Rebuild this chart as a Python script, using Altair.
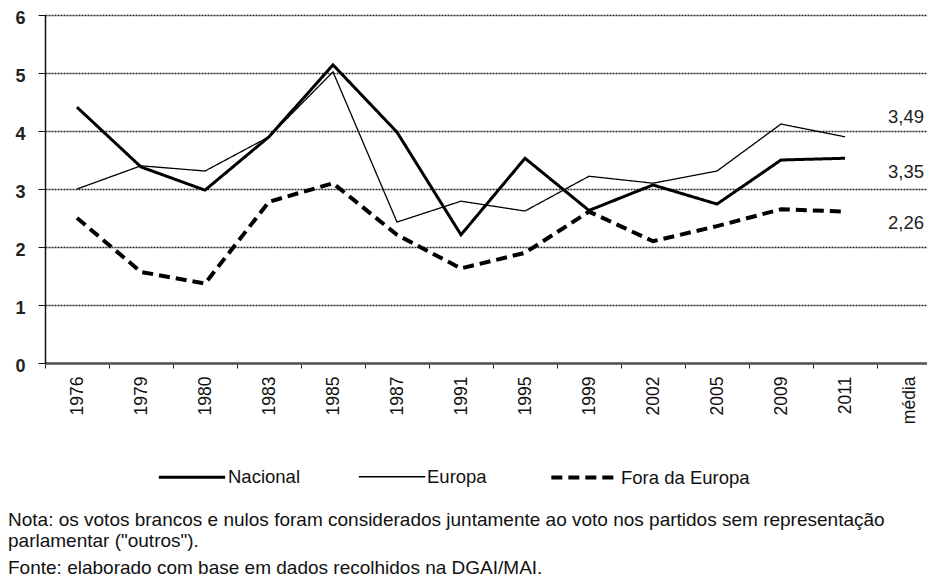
import altair as alt
import pandas as pd

# ---- data ----
categories = ["1976", "1979", "1980", "1983", "1985", "1987", "1991", "1995",
              "1999", "2002", "2005", "2009", "2011", "média"]
years = categories[:-1]
series_names = ["Nacional", "Europa", "Fora da Europa"]
nacional = [4.41, 3.38, 2.98, 3.90, 5.14, 3.98, 2.21, 3.53, 2.63, 3.07, 2.74, 3.50, 3.53]
europa = [3.00, 3.40, 3.31, 3.90, 5.02, 2.43, 2.79, 2.62, 3.22, 3.10, 3.31, 4.12, 3.90]
fora = [2.50, 1.57, 1.37, 2.78, 3.10, 2.21, 1.63, 1.90, 2.61, 2.10, 2.36, 2.65, 2.61]
mean_values = [3.49, 3.35, 2.26]
mean_labels = ["3,49", "3,35", "2,26"]
notes = [
    "Nota: os votos brancos e nulos foram considerados juntamente ao voto nos partidos sem representação",
    "parlamentar (\"outros\").",
    "Fonte: elaborado com base em dados recolhidos na DGAI/MAI.",
]

# ---- styles ----
FONT = "Liberation Sans"
mean_dy = [-44, 3, -9]
note_y = [505, 526, 553]

rows = []
for name, vals in zip(series_names, [nacional, europa, fora]):
    for c, v in zip(years, vals):
        rows.append({"ano": c, "valor": v, "serie": name})
df = pd.DataFrame(rows)

xscale = alt.Scale(type="band", domain=categories, range=[0, 896],
                   paddingInner=0, paddingOuter=0)
yscale = alt.Scale(domain=[0, 6], nice=False)

lines = alt.Chart(df).mark_line(color="black", strokeJoin="miter").encode(
    x=alt.X("ano:N", scale=xscale, bandPosition=0.5, sort=categories,
            axis=alt.Axis(title=None, labelAngle=270, tickBand="extent",
                          labelFontSize=17.5, labelFont=FONT, labelColor="#111",
                          labelPadding=8, tickSize=5, tickColor="#222",
                          domainColor="#555", domainWidth=2.5, grid=False,
                          labelBaseline="middle")),
    y=alt.Y("valor:Q", scale=yscale,
            axis=alt.Axis(title=None, values=[0, 1, 2, 3, 4, 5, 6], format="d",
                          labelFontSize=18, labelFontWeight="bold", labelFont=FONT,
                          labelColor="#222", labelPadding=13, tickSize=7,
                          labelOffset=3,
                          tickColor="#111", domainColor="#111", domainWidth=1.5,
                          grid=True, gridColor="#222", gridDash=[2, 1],
                          gridWidth=1.5)),
    strokeWidth=alt.StrokeWidth("serie:N",
                                scale=alt.Scale(type="ordinal", domain=series_names,
                                                range=[3.0, 1.3, 4.0]),
                                legend=alt.Legend(title=None)),
    strokeDash=alt.StrokeDash("serie:N",
                              scale=alt.Scale(domain=series_names,
                                              range=[[1, 0], [1, 0], [11, 6]]),
                              legend=alt.Legend(title=None)),
)

layers = [lines]
for val, lab, dy in zip(mean_values, mean_labels, mean_dy):
    d = pd.DataFrame({"ano": ["média"], "valor": [val], "lab": [lab]})
    layers.append(
        alt.Chart(d).mark_text(font=FONT, fontSize=18.5, color="#222", dy=dy, dx=-3,
                               align="center", baseline="middle").encode(
            x=alt.X("ano:N", scale=xscale, bandPosition=0.5),
            y=alt.Y("valor:Q", scale=yscale),
            text="lab:N",
        )
    )

for txt, yy in zip(notes, note_y):
    d = pd.DataFrame({"t": [txt]})
    layers.append(
        alt.Chart(d).mark_text(font=FONT, fontSize=19, color="#111",
                               align="left", baseline="middle").encode(
            x=alt.value(-37), y=alt.value(yy), text="t:N")
    )

chart = alt.layer(*layers).properties(
    width=880, height=348,
    autosize=alt.AutoSizeParams(type="none"),
    padding={"left": 37, "top": 7, "right": 2, "bottom": 214},
).configure_view(stroke=None).configure_legend(
    orient="none", legendX=112, legendY=427, direction="horizontal",
    symbolType="stroke", symbolSize=4400, symbolStrokeColor="black",
    labelFont=FONT, labelFontSize=18.5, labelColor="#111", labelOffset=1,
    columnPadding=56, labelLimit=300,
)

chart.save("out.html", embed_options={"renderer": "svg", "actions": False})
